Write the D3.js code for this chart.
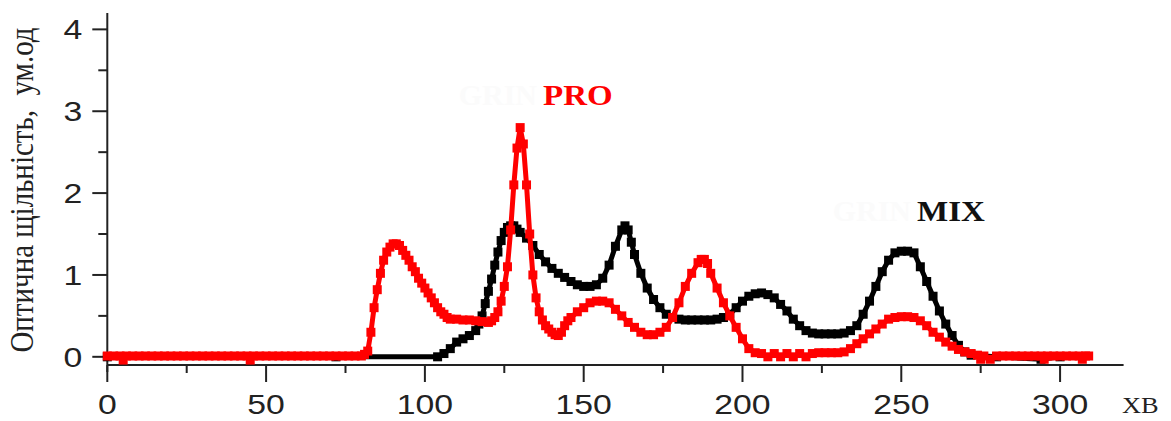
<!DOCTYPE html>
<html><head><meta charset="utf-8">
<script src="https://cdn.jsdelivr.net/npm/d3@7"></script>
<style>html,body{margin:0;padding:0;background:#fff}</style>
</head><body>
<script>
// ---- data (minutes, optical density) ----
const xTicks = [0, 50, 100, 150, 200, 250, 300];
const yTicks = [0, 1, 2, 3, 4];
const xLabel = "ХВ";
const yLabel = "Оптична щільність,\u00A0\u00A0ум.од";

const proSeries = [
 [0,0.01],[2,0.01],[4,0.01],[5,-0.04],[6,0.01],[8,0.01],[10,0.01],[12,0.01],[14,0.01],[16,0.01],[18,0.01],[20,0.01],
 [22,0.01],[24,0.01],[26,0.01],[28,0.01],[30,0.01],[32,0.01],[34,0.01],[36,0.01],[38,0.01],[40,0.01],[42,0.01],[44,0.01],
 [45,-0.04],[46,0.01],[48,0.01],[50,0.01],[52,0.01],[54,0.01],[56,0.01],[58,0.01],[60,0.01],[62,0.01],[64,0.01],[66,0.01],
 [68,0.01],[70,0.01],[72,0.01],[74,0.01],[76,0.01],[78,0.01],[80,0.01],[81,0.03],[82,0.07],[83,0.3],[84,0.6],[85,0.82],
 [86,1.02],[87,1.18],[88,1.28],[89,1.34],[90,1.38],[91,1.38],[92,1.36],[93,1.3],[94,1.24],[95,1.18],[96,1.1],[97,1.04],
 [98,0.96],[99,0.9],[100,0.84],[101,0.78],[102,0.72],[103,0.66],[104,0.6],[105,0.55],[106,0.52],[107,0.48],[108,0.46],
 [110,0.46],[112,0.45],[114,0.45],[116,0.44],[118,0.43],[120,0.42],[121,0.44],[122,0.48],[123,0.55],[124,0.68],[125,0.86],
 [126,1.1],[127,1.55],[128,2.1],[129,2.55],[130,2.8],[131,2.6],[132,2.1],[133,1.5],[134,1.0],[135,0.72],[136,0.55],
 [137,0.45],[138,0.38],[139,0.34],[140,0.3],[141,0.27],[142,0.26],[143,0.3],[144,0.38],[145,0.44],[146,0.48],[148,0.55],
 [150,0.6],[152,0.66],[154,0.68],[156,0.68],[158,0.66],[160,0.58],[162,0.5],[164,0.42],[166,0.36],[168,0.3],[170,0.27],
 [172,0.27],[174,0.3],[176,0.36],[178,0.48],[180,0.66],[182,0.86],[184,1.02],[186,1.15],[187,1.19],[188,1.19],[189,1.14],
 [190,1.02],[192,0.84],[194,0.66],[196,0.5],[198,0.36],[200,0.22],[202,0.1],[204,0.05],[206,0.04],[208,0.0],[210,0.04],
 [212,0.0],[214,0.04],[216,0.0],[218,0.04],[220,0.0],[222,0.04],[224,0.05],[226,0.05],[228,0.05],[230,0.05],[232,0.06],
 [234,0.1],[236,0.16],[238,0.22],[240,0.28],[242,0.34],[244,0.4],[246,0.46],[248,0.48],[250,0.49],[252,0.49],[254,0.48],
 [256,0.44],[258,0.38],[260,0.3],[262,0.24],[264,0.18],[266,0.13],[268,0.09],[270,0.06],[272,0.04],[274,0.02],[275,-0.03],
 [276,0.01],[278,-0.03],[280,0.01],[282,0.01],[284,0.01],[286,0.01],[288,0.01],[290,0.01],[292,0.01],[294,0.01],[295,-0.03],
 [296,0.01],[298,0.01],[300,0.01],[302,0.01],[304,0.01],[306,0.01],[307,-0.03],[308,0.01],[309,0.01]
];

const mixSeries = [
 [0,0.0],[72,0.0],[104,0.0],[106,0.04],[108,0.1],[110,0.18],[112,0.22],[114,0.26],[116,0.32],[117,0.4],[118,0.5],
 [119,0.65],[120,0.8],[121,0.95],[122,1.12],[123,1.28],[124,1.42],[125,1.52],[126,1.58],[127,1.6],[128,1.6],[129,1.56],
 [130,1.52],[132,1.45],[134,1.36],[136,1.25],[138,1.16],[140,1.08],[142,1.02],[144,0.97],[146,0.92],[148,0.88],[150,0.86],
 [152,0.86],[154,0.88],[156,0.96],[158,1.12],[160,1.35],[162,1.55],[163,1.6],[164,1.55],[165,1.4],[166,1.25],[168,1.02],
 [170,0.84],[172,0.7],[174,0.6],[176,0.52],[178,0.48],[180,0.46],[182,0.45],[184,0.45],[186,0.45],[188,0.45],[190,0.45],
 [192,0.46],[194,0.48],[196,0.52],[198,0.6],[200,0.68],[202,0.74],[204,0.77],[206,0.78],[208,0.76],[210,0.72],[212,0.64],
 [214,0.56],[216,0.46],[218,0.38],[220,0.32],[222,0.29],[224,0.28],[226,0.28],[228,0.28],[230,0.28],[232,0.29],[234,0.32],
 [236,0.38],[238,0.52],[240,0.68],[242,0.86],[244,1.04],[246,1.18],[248,1.27],[250,1.29],[252,1.29],[254,1.27],[256,1.1],
 [258,0.92],[260,0.74],[262,0.56],[264,0.4],[266,0.26],[268,0.14],[270,0.06],[272,0.02],[280,0.0],[294,-0.03],[300,0.0]
];

// ---- drawing ----
const W = 1171, H = 421;
const svg = d3.select("body").append("svg").attr("width", W).attr("height", H)
  .style("background", "#fff");

const x = d3.scaleLinear().domain([0, 320]).range([107.3, 1123.6]);
const y = d3.scaleLinear().domain([-0.1, 4.2]).range([365, 13]);
const axisColor = "#222";

// y axis
const yAxisG = svg.append("g").attr("transform", `translate(${x(0)},0)`);
yAxisG.append("line").attr("y1", y(4.2)).attr("y2", 372).attr("stroke", axisColor).attr("stroke-width", 2);
yAxisG.selectAll(".ymaj").data(yTicks).join("line")
  .attr("x1", -15).attr("x2", 0).attr("y1", d => y(d)).attr("y2", d => y(d))
  .attr("stroke", axisColor).attr("stroke-width", 2);
yAxisG.selectAll(".ymin").data(d3.range(0.5, 4, 1)).join("line")
  .attr("x1", -9).attr("x2", 0).attr("y1", d => y(d)).attr("y2", d => y(d))
  .attr("stroke", axisColor).attr("stroke-width", 2);
yAxisG.selectAll(".ylab").data(yTicks).join("text")
  .attr("transform", d => `translate(-25,${y(d) + 10}) scale(1.25,1)`)
  .attr("text-anchor", "end")
  .attr("font-family", "Liberation Sans, Arial, sans-serif").attr("font-size", 27)
  .attr("fill", "#222").text(d => d);

// x axis
const xAxisG = svg.append("g").attr("transform", `translate(0,${y(-0.1)})`);
xAxisG.append("line").attr("x1", x(0)).attr("x2", x(320)).attr("stroke", axisColor).attr("stroke-width", 2);
xAxisG.selectAll(".xmaj").data(xTicks).join("line")
  .attr("x1", d => x(d)).attr("x2", d => x(d)).attr("y1", 0).attr("y2", 17)
  .attr("stroke", axisColor).attr("stroke-width", 2);
xAxisG.selectAll(".xmin").data(d3.range(25, 320, 50)).join("line")
  .attr("x1", d => x(d)).attr("x2", d => x(d)).attr("y1", 0).attr("y2", 8)
  .attr("stroke", axisColor).attr("stroke-width", 2);
xAxisG.selectAll(".xlab").data(xTicks).join("text")
  .attr("transform", d => `translate(${x(d)},49) scale(1.25,1)`)
  .attr("text-anchor", "middle")
  .attr("font-family", "Liberation Sans, Arial, sans-serif").attr("font-size", 27)
  .attr("fill", "#222").text(d => d);

svg.append("text").attr("transform", "translate(1122,413) scale(1.1,1)")
  .attr("font-family", "Liberation Serif, Times New Roman, serif").attr("font-size", 24)
  .attr("fill", "#222").text(xLabel);

svg.append("text").attr("transform", "translate(33,190) scale(1.15,1) rotate(-90)")
  .attr("text-anchor", "middle")
  .attr("font-family", "Liberation Serif, Times New Roman, serif").attr("font-size", 29)
  .attr("fill", "#222").text(yLabel);

// series
const line = d3.line().x(d => x(d[0])).y(d => y(d[1]));
function drawSeries(data, color) {
  const g = svg.append("g");
  g.append("path").datum(data).attr("d", line).attr("fill", "none")
    .attr("stroke", color).attr("stroke-width", 5);
  const s = 9;
  g.selectAll("rect").data(data).join("rect")
    .attr("x", d => x(d[0]) - s / 2).attr("y", d => y(d[1]) - s / 2)
    .attr("width", s).attr("height", s).attr("fill", color);
}
drawSeries(mixSeries, "#000");
drawSeries(proSeries, "#ff0000");

// labels
function label(xEnd, yBase, name, color) {
  svg.append("text").attr("x", xEnd - 6).attr("y", yBase).attr("text-anchor", "end")
    .attr("font-family", "Liberation Serif, Times New Roman, serif").attr("font-weight", "bold")
    .attr("font-size", 30).attr("fill", "#fbfbfb").text("GRIN");
  svg.append("text").attr("transform", `translate(${xEnd},${yBase}) scale(1.1,1)`)
    .attr("font-family", "Liberation Serif, Times New Roman, serif").attr("font-weight", "bold")
    .attr("font-size", 30).attr("fill", color).text(name);
}
label(543, 105, "PRO", "#ff0000");
label(917, 221, "MIX", "#111");
</script>
</body></html>
